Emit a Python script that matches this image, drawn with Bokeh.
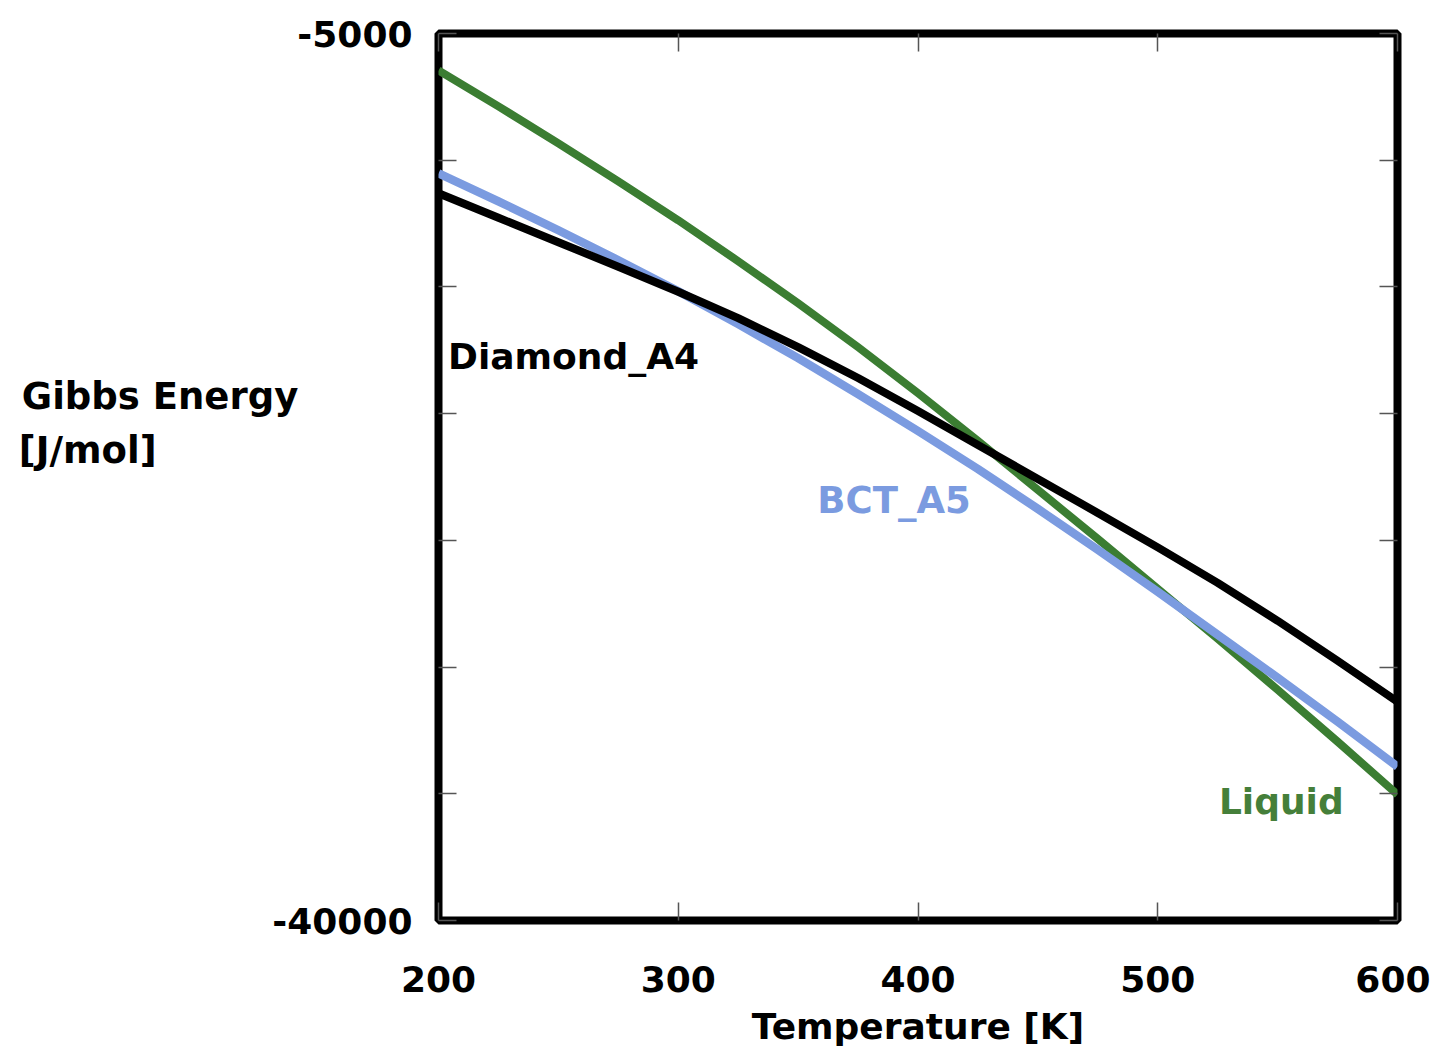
from bokeh.plotting import figure
from bokeh.models import Range1d, LinearAxis, FixedTicker, Label
from bokeh.embed import file_html
from bokeh.resources import INLINE

# ---- data ----
temperature = [200, 225, 250, 275, 300, 325, 350, 375, 400,
               425, 450, 475, 500, 525, 550, 575, 600]
liquid = [-6458, -7877, -9335, -10833, -12370, -13985, -15641, -17375, -19188,
          -21079, -23010, -24941, -26912, -28882, -30892, -32942, -35030]
bct_a5 = [-10517, -11621, -12764, -13946, -15168, -16468, -17808, -19227, -20685,
          -22183, -23759, -25375, -27030, -28725, -30419, -32153, -33927]
diamond_a4 = [-11306, -12271, -13237, -14202, -15188, -16232, -17375, -18596, -19897,
              -21237, -22577, -23917, -25277, -26676, -28173, -29749, -31365]

x_ticks = [200, 300, 400, 500, 600]
y_ticks = [-40000, -35000, -30000, -25000, -20000, -15000, -10000, -5000]
y_tick_labels = {-5000: "-5000", -40000: "-40000"}

series_names = ["Liquid", "BCT_A5", "Diamond_A4"]
x_title = "Temperature [K]"
y_title_lines = ["Gibbs Energy", "[J/mol]"]

FONT = "DejaVu Sans"
GREEN = "#3b7d32"
BLUE = "#7b9be0"
BLACK = "#000000"

p = figure(width=1430, height=1050, output_backend="svg", toolbar_location=None,
           x_range=Range1d(200, 600), y_range=Range1d(-40000, -5000),
           min_border_left=438, min_border_right=33, min_border_top=33,
           min_border_bottom=130)
p.background_fill_color = "white"
p.border_fill_color = "white"
p.outline_line_color = "black"
p.outline_line_width = 8
p.grid.visible = False

# lines: green, blue, black (black on top)
p.line(temperature, liquid, line_color=GREEN, line_width=8, line_join="round")
p.line(temperature, bct_a5, line_color=BLUE, line_width=8.5, line_join="round")
p.line(temperature, diamond_a4, line_color=BLACK, line_width=8, line_join="round")

def style_axis(ax, show_labels):
    ax.axis_line_color = None
    ax.major_tick_in = 18
    ax.major_tick_out = 0
    ax.minor_tick_line_color = None
    ax.major_tick_line_color = "#555555"
    ax.major_tick_line_width = 1.5
    if show_labels:
        ax.major_label_text_font = FONT
        ax.major_label_text_font_style = "bold"
        ax.major_label_text_font_size = "36px"
        ax.major_label_text_color = "black"
    else:
        ax.major_label_text_font_size = "0px"
        ax.major_label_standoff = 0

# bottom axis
xa = p.xaxis[0]
xa.ticker = FixedTicker(ticks=x_ticks)
style_axis(xa, True)
xa.major_label_standoff = 45
xa.axis_label = x_title
xa.axis_label_text_font = FONT
xa.axis_label_text_font_style = "bold"
xa.axis_label_text_font_size = "36px"
xa.axis_label_text_color = "black"
xa.axis_label_standoff = 11

# left axis
ya = p.yaxis[0]
ya.ticker = FixedTicker(ticks=y_ticks)
style_axis(ya, True)
ya.major_label_standoff = 26
ya.major_label_overrides = {t: y_tick_labels.get(t, "") for t in y_ticks}
# second line padded with no-break spaces so that both lines start at the left
ya.axis_label = y_title_lines[0] + "\n" + y_title_lines[1] + "\u00a0" * 11 + "\n\n"
ya.axis_label_orientation = "horizontal"
ya.axis_label_text_font = FONT
ya.axis_label_text_font_style = "bold"
ya.axis_label_text_font_size = "37px"
ya.axis_label_text_color = "black"
ya.axis_label_text_line_height = 1.254
ya.axis_label_standoff = -29

# mirror axes (ticks only)
top = LinearAxis(ticker=FixedTicker(ticks=x_ticks))
style_axis(top, False)
p.add_layout(top, "above")
right = LinearAxis(ticker=FixedTicker(ticks=y_ticks))
style_axis(right, False)
p.add_layout(right, "right")

def add_label(x, y, text, color, size):
    p.add_layout(Label(x=x, y=y, text=text, text_color=color, text_font=FONT,
                       text_font_style="bold", text_font_size=size,
                       text_align="left", text_baseline="alphabetic"))

# curve labels
add_label(204.0, -17730, series_names[2], BLACK, "36px")
add_label(358.0, -23444, series_names[1], BLUE, "37px")
add_label(525.5, -35307, series_names[0], "#457f3a", "36px")

open("out.html", "w").write(file_html(p, INLINE))
